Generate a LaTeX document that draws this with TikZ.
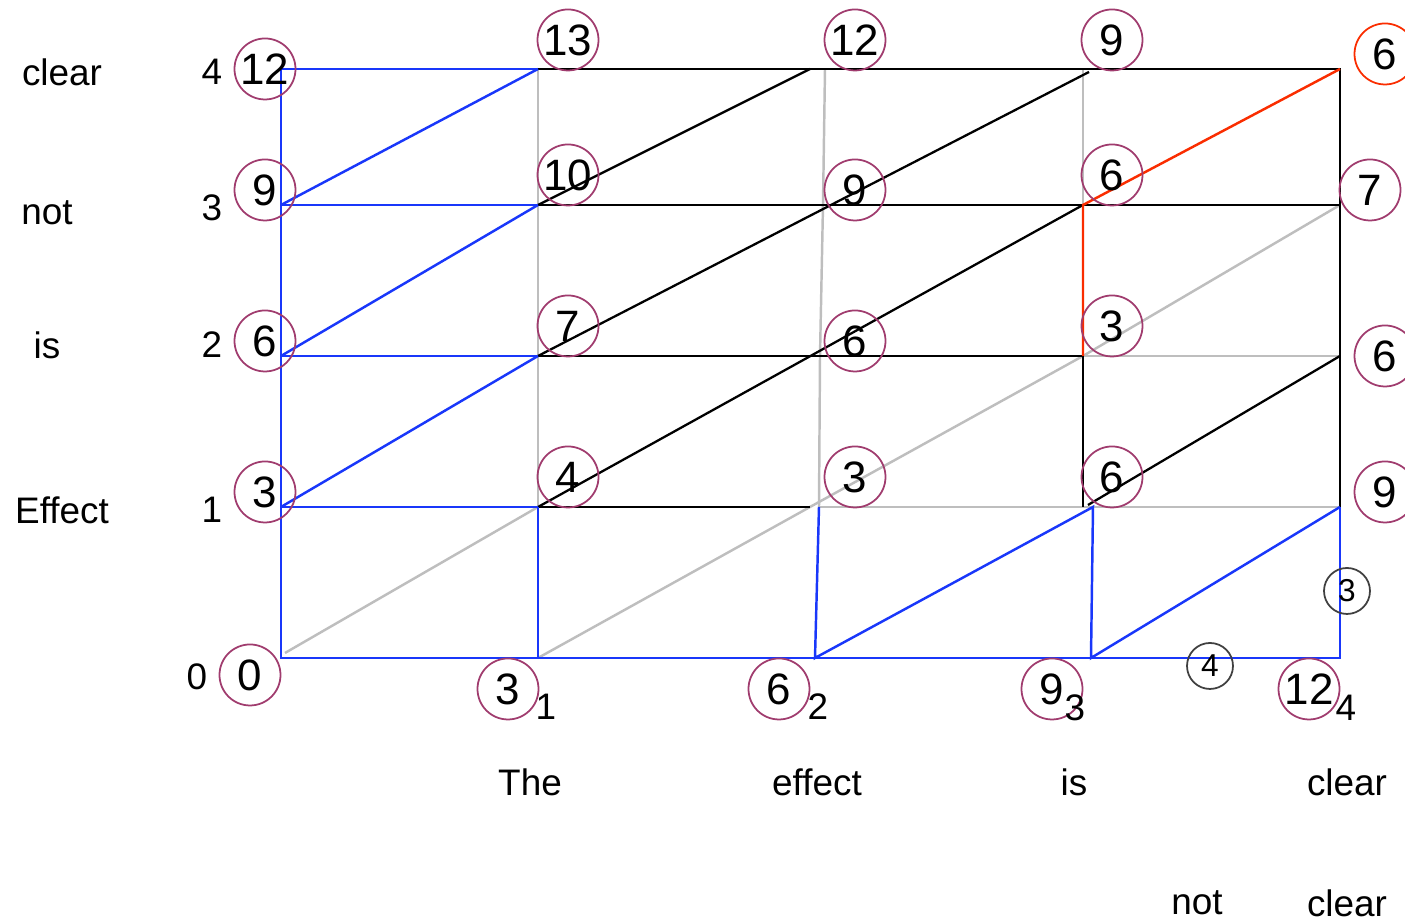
\documentclass[tikz,border=0pt]{standalone}
\usepackage{fontspec}
\setmainfont{Liberation Sans}
\usetikzlibrary{positioning}
\definecolor{pathblue}{RGB}{25,55,250}
\definecolor{bestred}{RGB}{250,45,0}
\definecolor{ringmauve}{RGB}{160,60,110}
\definecolor{cellgray}{RGB}{190,190,190}

\begin{document}
\begin{tikzpicture}[
  cell/.style={circle,draw=ringmauve,line width=0.5pt,minimum size=0.61cm,inner sep=0pt,font=\fontsize{12.5}{13}\selectfont},
  minicell/.style={circle,draw=black!75,line width=0.5pt,minimum size=0.46cm,inner sep=0pt,font=\fontsize{9}{9}\selectfont},
  word/.style={inner sep=0pt,font=\fontsize{10.5}{12}\selectfont},
  bluelink/.style={pathblue,line width=0.7pt},
  graylink/.style={cellgray,line width=0.7pt},
  blacklink/.style={black,line width=0.65pt},
  redlink/.style={bestred,line width=0.7pt}
]
\useasboundingbox (0,0) rectangle (14.05,9.22);
%Grid corners: column c (word), row r (word)
\coordinate (c0r0) at (2.81,2.64);
\coordinate (c0r1) at (2.81,4.15);
\coordinate (c0r2) at (2.81,5.66);
\coordinate (c0r3) at (2.81,7.17);
\coordinate (c0r4) at (2.81,8.53);
\coordinate (c1r0) at (5.38,2.64);
\coordinate (c1r1) at (5.38,4.15);
\coordinate (c1r2) at (5.38,5.66);
\coordinate (c1r3) at (5.38,7.17);
\coordinate (c1r4) at (5.38,8.53);
\coordinate (c2r0) at (8.15,2.64);
\coordinate (c2r1) at (8.19,4.15);
\coordinate (c2r2) at (8.20,5.66);
\coordinate (c2r3) at (8.23,7.17);
\coordinate (c2r4) at (8.25,8.53);
\coordinate (c3r0) at (10.91,2.64);
\coordinate (c3r1) at (10.83,4.15);
\coordinate (c3r2) at (10.83,5.66);
\coordinate (c3r3) at (10.83,7.17);
\coordinate (c3r4) at (10.83,8.53);
\coordinate (c4r0) at (13.40,2.64);
\coordinate (c4r1) at (13.40,4.15);
\coordinate (c4r2) at (13.40,5.66);
\coordinate (c4r3) at (13.40,7.17);
\coordinate (c4r4) at (13.40,8.53);
% loose ends that miss the corners a little
\coordinate (g0) at (2.85,2.69);
\coordinate (b3r1) at (10.93,4.15);
\coordinate (k2r1) at (8.10,4.15);
\coordinate (k2r4) at (8.10,8.53);
\coordinate (k3r4) at (10.89,8.50);
\coordinate (k3r1) at (10.88,4.17);

% gray cells
\draw[graylink] (g0) -- (c1r1);
\draw[graylink] (c1r0) -- (k2r1) -- (c3r2) -- (c4r3);
\draw[graylink] (c1r4) -- (c1r1);
\draw[graylink] (c2r4) -- (c2r3) -- (c2r2) -- (c2r1);
\draw[graylink] (c3r4) -- (c3r3);
\draw[graylink] (c2r1) -- (c4r1);
\draw[graylink] (c3r2) -- (c4r2);

% black cells
\draw[blacklink] (c1r4) -- (c4r4) -- (c4r1);
\draw[blacklink] (c1r3) -- (c4r3);
\draw[blacklink] (c1r2) -- (c3r2) -- (c3r1);
\draw[blacklink] (c1r1) -- (k2r1);
\draw[blacklink] (c1r3) -- (k2r4);
\draw[blacklink] (c1r2) -- (k3r4);
\draw[blacklink] (c1r1) -- (c3r3);
\draw[blacklink] (k3r1) -- (c4r2);

% blue cells
\draw[bluelink] (c1r4) -- (c0r4) -- (c0r0) -- (c4r0) -- (c4r1);
\draw[bluelink] (c0r3) -- (c1r3);
\draw[bluelink] (c0r2) -- (c1r2);
\draw[bluelink] (c0r1) -- (c1r1);
\draw[bluelink] (c0r3) -- (c1r4);
\draw[bluelink] (c0r2) -- (c1r3);
\draw[bluelink] (c0r1) -- (c1r2);
\draw[bluelink] (c1r1) -- (c1r0);
\draw[bluelink] (c2r1) -- (c2r0) -- (b3r1) -- (c3r0) -- (c4r1);

% red path
\draw[redlink] (c3r2) -- (c3r3) -- (c4r4);

% scores
\node[cell] (s04) at (2.65,8.53) {12};
\node[cell] (s03) at (2.65,7.32) {9};
\node[cell] (s02) at (2.65,5.81) {6};
\node[cell] (s01) at (2.65,4.30) {3};
\node[cell] (s00) at (2.50,2.47) {0};
\node[cell] (s14) at (5.68,8.82) {13};
\node[cell] (s13) at (5.68,7.47) {10};
\node[cell] (s12) at (5.68,5.96) {7};
\node[cell] (s11) at (5.68,4.45) {4};
\node[cell] (s10) at (5.08,2.33) {3};
\node[cell] (s24) at (8.55,8.82) {12};
\node[cell] (s23) at (8.55,7.32) {9};
\node[cell] (s22) at (8.55,5.81) {6};
\node[cell] (s21) at (8.55,4.45) {3};
\node[cell] (s20) at (7.79,2.33) {6};
\node[cell] (s34) at (11.12,8.82) {9};
\node[cell] (s33) at (11.12,7.47) {6};
\node[cell] (s32) at (11.12,5.96) {3};
\node[cell] (s31) at (11.12,4.45) {6};
\node[cell] (s30) at (10.52,2.33) {9};
\node[cell,draw=bestred] (s44) at (13.85,8.68) {6};
\node[cell] (s43) at (13.70,7.32) {7};
\node[cell] (s42) at (13.85,5.66) {6};
\node[cell] (s41) at (13.85,4.30) {9};
\node[cell] (s40) at (13.09,2.33) {12};
\node[minicell] (m3) at (13.47,3.31) {3};
\node[minicell] (m4) at (12.10,2.56) {4};

% column indices
\node[word] (i1) at (5.46,2.15) {1};
\node[word] (i2) at (8.18,2.15) {2};
\node[word] (i3) at (10.75,2.14) {3};
\node[word] (i4) at (13.46,2.14) {4};

% row indices and row words
\node[word] (j4) at (2.12,8.50) {4};
\node[word] (j3) at (2.12,7.14) {3};
\node[word] (j2) at (2.12,5.77) {2};
\node[word] (j1) at (2.12,4.12) {1};
\node[word] (j0) at (1.97,2.45) {0};
\node[word] (w4) at (0.62,8.50) {clear};
\node[word] (w3) at (0.47,7.09) {not};
\node[word] (w2) at (0.47,5.77) {is};
\node[word] (w1) at (0.62,4.12) {Effect};

% column words
\node[word] (t1) at (5.30,1.40) {The};
\node[word] (t2) at (8.17,1.40) {effect};
\node[word] (t3) at (10.74,1.40) {is};
\node[word] (t4) at (13.47,1.40) {clear};
\node[word] (u3) at (11.97,0.19) {not};
\node[word] (u4) at (13.47,0.19) {clear};
\end{tikzpicture}
\end{document}
